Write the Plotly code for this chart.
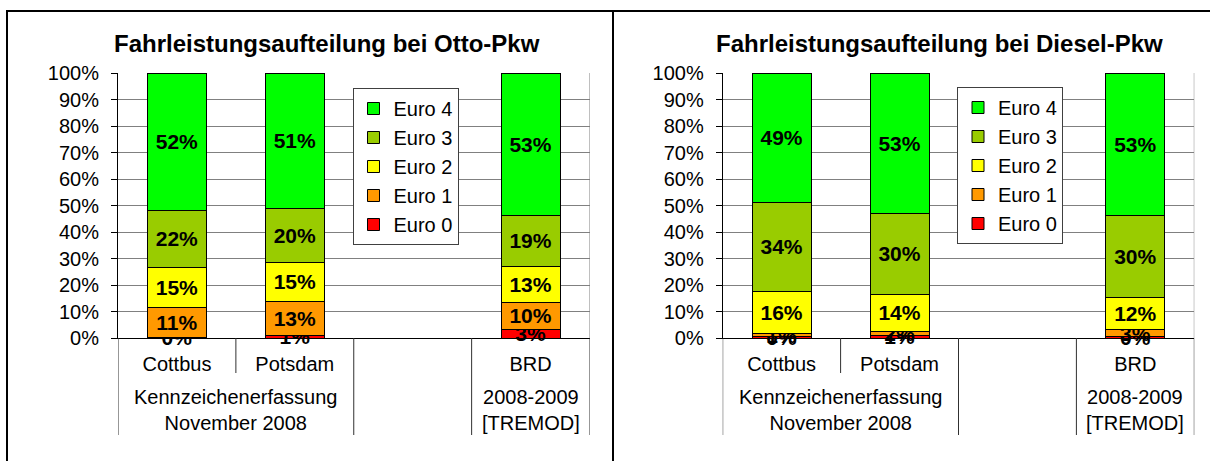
import plotly.graph_objects as go

W, H = 1210, 461


def px(x):
    return x / W


def py(y):
    return 1 - y / H


FONT = "Liberation Sans, Arial, sans-serif"

# ---------------- data ----------------
categories = ["Cottbus", "Potsdam", " ", "BRD"]
group_labels = ["Kennzeichenerfassung<br>November 2008", "2008-2009<br>[TREMOD]"]
series_names = ["Euro 0", "Euro 1", "Euro 2", "Euro 3", "Euro 4"]
series_colors = ["#FF0000", "#FF9900", "#FFFF00", "#99CC00", "#00FF00"]
y_ticks = [0, 10, 20, 30, 40, 50, 60, 70, 80, 90, 100]
y_tick_labels = ["0%", "10%", "20%", "30%", "40%", "50%", "60%", "70%", "80%", "90%", "100%"]

title_otto = "Fahrleistungsaufteilung bei Otto-Pkw"
title_diesel = "Fahrleistungsaufteilung bei Diesel-Pkw"

# Otto-Pkw shares (%) per category
otto_euro0 = [0.3, 0.8, None, 3.2]
otto_euro1 = [11.2, 12.9, None, 10.2]
otto_euro2 = [15.0, 14.9, None, 13.3]
otto_euro3 = [21.8, 20.1, None, 19.3]
otto_euro4 = [51.7, 51.3, None, 53.2]

# Diesel-Pkw shares (%) per category
diesel_euro0 = [0.4, 0.9, None, 0.4]
diesel_euro1 = [1.3, 1.5, None, 2.9]
diesel_euro2 = [15.8, 14.2, None, 11.9]
diesel_euro3 = [33.7, 30.4, None, 30.4]
diesel_euro4 = [48.8, 53.0, None, 53.4]

otto_series = [otto_euro0, otto_euro1, otto_euro2, otto_euro3, otto_euro4]
diesel_series = [diesel_euro0, diesel_euro1, diesel_euro2, diesel_euro3, diesel_euro4]


def label(v):
    return "" if v is None else f"{int(v + 0.5)}%"


fig = go.Figure()

for series, xa, ya, lg in [(otto_series, "x", "y", "legend"),
                           (diesel_series, "x2", "y2", "legend2")]:
    for name, color, vals in zip(series_names, series_colors, series):
        fig.add_trace(go.Bar(
            x=categories, y=vals, name=name,
            marker=dict(color=color, line=dict(color="black", width=1)),
            text=[label(v) for v in vals],
            textposition="inside", insidetextanchor="middle", textangle=0,
            textfont=dict(family=FONT, size=21, color="black", weight="bold"),
            width=0.5, cliponaxis=False,
            xaxis=xa, yaxis=ya, legend=lg, showlegend=True,
        ))

# plot-area geometry (pixels)
left_x = (118, 589.5)
right_x = (722.7, 1194.3)
y_dom = [py(338), py(73)]


def xaxis_cfg(dom, anchor):
    return dict(
        domain=[px(dom[0]), px(dom[1])], anchor=anchor, type="category",
        categoryorder="array", categoryarray=categories, range=[-0.5, 3.5],
        showline=True, linecolor="black", linewidth=1, showgrid=False,
        ticks="", tickfont=dict(family=FONT, size=20, color="black"),
        ticklabelstandoff=8, fixedrange=True, automargin=False,
    )


def yaxis_cfg(anchor):
    return dict(
        domain=y_dom, anchor=anchor, range=[0, 100], tickmode="array",
        tickvals=y_ticks, ticktext=y_tick_labels,
        showline=True, linecolor="black", linewidth=1,
        ticks="outside", ticklen=6, tickcolor="black", showgrid=True,
        gridcolor="#808080", gridwidth=1, zeroline=False,
        tickfont=dict(family=FONT, size=20, color="black"),
        ticklabelstandoff=8, fixedrange=True, automargin=False,
    )


shapes = []
annotations = []
for xr, yr, title, cx in [("x", "y", title_otto, 327), ("x2", "y2", title_diesel, 939.5)]:
    # category separators below the axis
    for xv, y_end in [(-0.5, 435), (0.5, 373), (1.5, 435), (2.5, 435), (3.5, 435)]:
        shapes.append(dict(type="line", xref=xr, yref="paper", x0=xv, x1=xv,
                           y0=py(338), y1=py(y_end), line=dict(color="#303030", width=1)))
    # right border of plot area
    shapes.append(dict(type="line", xref=xr, yref=yr, x0=3.5, x1=3.5, y0=0, y1=100,
                       line=dict(color="#808080", width=1)))
    # group labels
    for gl, gx in zip(group_labels, [0.5, 3]):
        annotations.append(dict(text=gl, xref=xr, yref="paper", x=gx, y=py(410),
                                showarrow=False, xanchor="center", yanchor="middle",
                                font=dict(family=FONT, size=20, color="black")))
    annotations.append(dict(text=f"<b>{title}</b>", xref="paper", yref="paper",
                            x=px(cx), y=py(43), showarrow=False, xanchor="center",
                            yanchor="middle", font=dict(family=FONT, size=24, color="black")))

# panel frames
for x0, y0, x1, y1 in [(7, 11, W, 11), (7, 10, 7, H), (613, 10, 613, H)]:
    shapes.append(dict(type="line", xref="paper", yref="paper", x0=px(x0), x1=px(x1),
                       y0=py(y0), y1=py(y1), line=dict(color="black", width=2)))

legend_style = dict(
    traceorder="reversed", bgcolor="white", bordercolor="#404040", borderwidth=1,
    font=dict(family=FONT, size=20, color="black"), xanchor="left", yanchor="top",
    tracegroupgap=0,
)

fig.update_layout(
    width=W, height=H, autosize=False,
    margin=dict(l=0, r=0, t=0, b=0, pad=0, autoexpand=False),
    paper_bgcolor="white", plot_bgcolor="white",
    barmode="stack", barnorm="percent",
    uniformtext=dict(minsize=21, mode="show"),
    font=dict(family=FONT, size=20, color="black"),
    xaxis=xaxis_cfg(left_x, "y"), yaxis=yaxis_cfg("x"),
    xaxis2=xaxis_cfg(right_x, "y2"), yaxis2=yaxis_cfg("x2"),
    legend=dict(x=px(352.5), y=py(88), **legend_style),
    legend2=dict(x=px(957), y=py(87), **legend_style),
    shapes=shapes, annotations=annotations,
)

fig.write_html("out.html", config={"displayModeBar": False},
               post_script="document.body.style.margin='0';document.body.style.overflow='hidden';")
